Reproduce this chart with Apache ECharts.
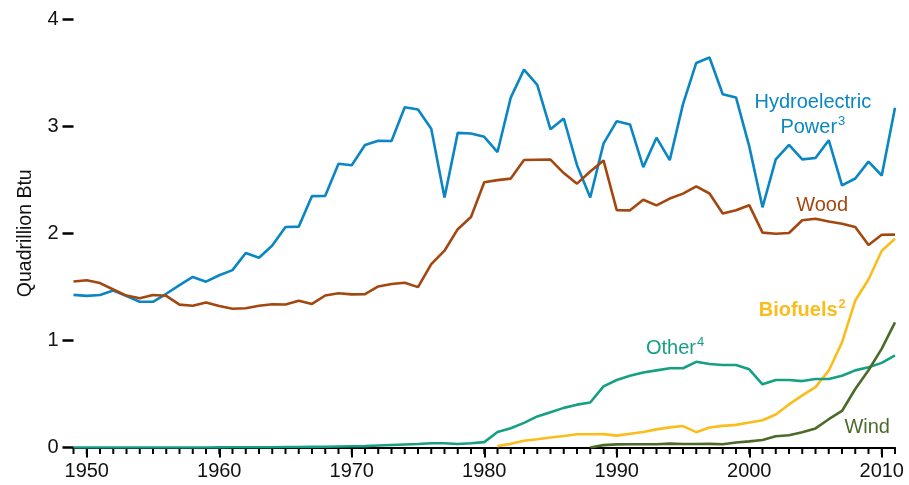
<!DOCTYPE html>
<html><head><meta charset="utf-8">
<script src="https://cdn.jsdelivr.net/npm/echarts@6/dist/echarts.min.js"></script>
<style>html,body{margin:0;padding:0;background:#fff}#c{width:909px;height:485px}</style>
</head><body><div id="c"></div><script>
const years = [1949,1950,1951,1952,1953,1954,1955,1956,1957,1958,1959,1960,1961,1962,1963,1964,1965,1966,1967,1968,1969,1970,1971,1972,1973,1974,1975,1976,1977,1978,1979,1980,1981,1982,1983,1984,1985,1986,1987,1988,1989,1990,1991,1992,1993,1994,1995,1996,1997,1998,1999,2000,2001,2002,2003,2004,2005,2006,2007,2008,2009,2010,2011];
const decadeTicks = [1950,1960,1970,1980,1990,2000,2010];
const yTicks = [0,1,2,3,4];
const hydro = [1.425,1.415,1.424,1.466,1.413,1.360,1.360,1.435,1.516,1.592,1.548,1.608,1.656,1.816,1.771,1.886,2.059,2.062,2.347,2.349,2.648,2.634,2.824,2.864,2.861,3.177,3.155,2.976,2.333,2.937,2.931,2.900,2.758,3.266,3.527,3.386,2.970,3.071,2.635,2.334,2.837,3.046,3.016,2.617,2.892,2.683,3.205,3.590,3.640,3.297,3.268,2.811,2.242,2.689,2.825,2.690,2.703,2.869,2.446,2.511,2.669,2.539,3.171];
const wood = [1.549,1.562,1.535,1.475,1.418,1.394,1.424,1.416,1.334,1.323,1.353,1.320,1.295,1.300,1.323,1.337,1.335,1.369,1.340,1.419,1.440,1.429,1.432,1.503,1.527,1.538,1.497,1.711,1.837,2.038,2.152,2.476,2.496,2.510,2.684,2.686,2.687,2.562,2.463,2.577,2.680,2.216,2.214,2.313,2.260,2.324,2.370,2.437,2.371,2.184,2.214,2.262,2.006,1.995,2.002,2.121,2.136,2.109,2.089,2.059,1.891,1.986,1.987];
const biofuels = [null,null,null,null,null,null,null,null,null,null,null,null,null,null,null,null,null,null,null,null,null,null,null,null,null,null,null,null,null,null,null,null,0.013,0.034,0.063,0.077,0.093,0.107,0.123,0.124,0.125,0.111,0.129,0.145,0.169,0.188,0.200,0.143,0.186,0.202,0.211,0.233,0.254,0.308,0.402,0.486,0.564,0.717,0.981,1.372,1.568,1.837,1.948];
const other = [0,0,0,0,0,0,0,0,0,0,0,0.001,0.002,0.002,0.003,0.003,0.004,0.004,0.006,0.007,0.009,0.011,0.013,0.018,0.023,0.028,0.032,0.040,0.040,0.033,0.040,0.050,0.145,0.180,0.230,0.290,0.330,0.370,0.400,0.420,0.570,0.630,0.670,0.700,0.720,0.740,0.740,0.800,0.780,0.770,0.770,0.730,0.590,0.630,0.630,0.620,0.640,0.640,0.670,0.720,0.750,0.790,0.860];
const wind = [null,null,null,null,null,null,null,null,null,null,null,null,null,null,null,null,null,null,null,null,null,null,null,null,null,null,null,null,null,null,null,null,null,null,null,null,null,null,null,0.000,0.022,0.029,0.031,0.030,0.031,0.036,0.033,0.033,0.034,0.031,0.046,0.057,0.070,0.105,0.115,0.142,0.178,0.264,0.341,0.546,0.721,0.923,1.168];

const C = {hydro:'#0a86c4', wood:'#a4470f', bio:'#fbbd1c', other:'#16a083', wind:'#4b6b28'};
const FONT = '"Liberation Sans", Arial, Helvetica, sans-serif';

function pairs(arr){ const out=[]; arr.forEach((v,i)=>{ if(v!==null) out.push([years[i], v]); }); return out; }
function line(name, arr, color){
  return {name, type:'line', data:pairs(arr), xAxisIndex:0, yAxisIndex:0, showSymbol:false, symbol:'none',
    lineStyle:{color, width:2.6}, itemStyle:{color}, animation:false, z:3};
}

const chart = echarts.init(document.getElementById('c'), null, {renderer:'canvas'});
chart.setOption({
  animation:false,
  grid:{left:73.5, right:14, top:19, bottom:37.5, containLabel:false},
  xAxis:[
    {type:'value', min:1949, max:2011, position:'bottom',
     axisLine:{show:true, lineStyle:{color:'#000', width:2.2}},
     axisTick:{show:true, customValues:decadeTicks, length:10, lineStyle:{color:'#000', width:2}},
     axisLabel:{show:true, customValues:decadeTicks, formatter:v=>String(v), margin:14, fontSize:20, color:'#111', fontFamily:FONT},
     splitLine:{show:false}}
  ],
  yAxis:[{type:'value', min:0, max:4, interval:1,
    axisLine:{show:false},
    axisTick:{show:true, length:11, lineStyle:{color:'#000', width:2.5}},
    axisLabel:{margin:15, fontSize:20, color:'#111', fontFamily:FONT},
    splitLine:{show:false},
    name:'Quadrillion Btu', nameLocation:'middle', nameGap:38, nameRotate:90,
    nameTextStyle:{fontSize:19.5, color:'#111', fontFamily:FONT}}],
  series:[
    {name:'yearTicks', type:'custom', xAxisIndex:0, yAxisIndex:0, silent:true, clip:false, z:1,
     data:years.map(y=>[y,0]), encode:{x:0, y:1},
     renderItem:function(params, api){
       const p = api.coord([api.value(0), 0]);
       return {type:'line', shape:{x1:p[0], y1:p[1], x2:p[0], y2:p[1]+6.5},
               style:{stroke:'#000', lineWidth:2}};
     }},
    line('Hydroelectric Power', hydro, C.hydro),
    line('Wood', wood, C.wood),
    line('Biofuels', biofuels, C.bio),
    line('Other', other, C.other),
    line('Wind', wind, C.wind)
  ]
});

function P(x,y){ return chart.convertToPixel({xAxisIndex:0, yAxisIndex:0}, [x,y]); }
function lbl(x, y, text, rich){
  const p = P(x,y);
  return {type:'text', x:p[0], y:p[1], z:10,
    style:{text, rich, align:'center', verticalAlign:'middle', textAlign:'center', textVerticalAlign:'middle'}};
}
function richFor(color, bold){
  const fw = bold ? 'bold' : 'normal';
  return {
    a:{fontSize:20, fontFamily:FONT, fill:color, color:color, fontWeight:fw, lineHeight:25},
    s:{fontSize:13, fontFamily:FONT, fill:color, color:color, fontWeight:fw, lineHeight:25, verticalAlign:'top', padding:[0,0,0,1]}
  };
}
chart.setOption({graphic:[
  lbl(2004.8, 3.10, '{a|Hydroelectric}\n{a|Power}{s|3}', richFor(C.hydro,false)),
  lbl(2005.5, 2.258, '{a|Wood}', richFor(C.wood,false)),
  lbl(2004.0, 1.280, '{a|Biofuels}{s|2}', richFor(C.bio,true)),
  lbl(1994.4, 0.926, '{a|Other}{s|4}', richFor(C.other,false)),
  lbl(2008.9, 0.191, '{a|Wind}', richFor(C.wind,false))
]});
</script></body></html>
